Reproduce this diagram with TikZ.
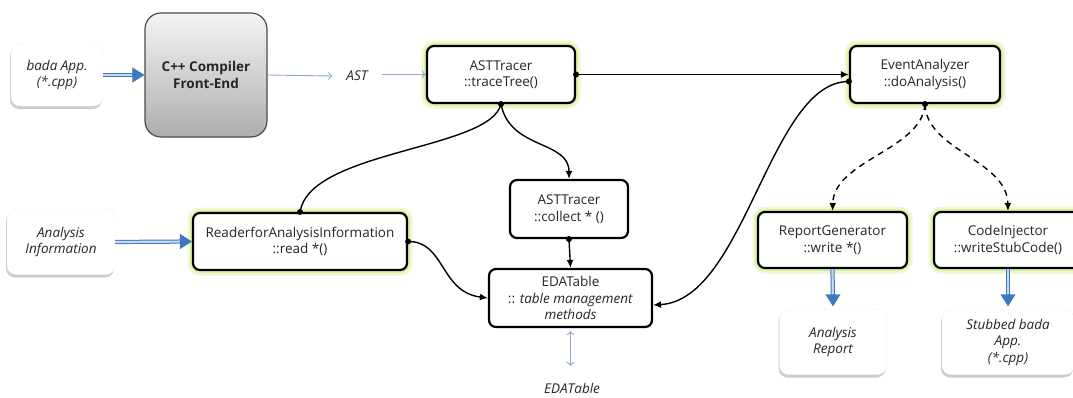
\documentclass[tikz,border=0pt]{standalone}
\usepackage{fontspec}
\setmainfont{Open Sans}
\usetikzlibrary{arrows.meta,shadows,calc}
\definecolor{glowA}{HTML}{EEF8D2}
\definecolor{glowB}{HTML}{DDF2A8}
\definecolor{dblue}{HTML}{3F78C2}
\definecolor{lblue}{HTML}{C4D8F0}
\definecolor{ablue}{HTML}{8EA9CF}
\begin{document}
\begin{tikzpicture}[x=1pt,y=-1pt,
  font=\fontsize{13.5}{16.5}\selectfont,
  meth/.style={draw=black, line width=2.2pt, rounded corners=7pt, fill=white, align=center, inner sep=0pt, text=black!85},
  glowbox/.style={meth, preaction={draw=glowA, line width=11pt}, preaction={draw=glowB, line width=6pt}},
  io/.style={rounded corners=9pt, fill=white, draw=black!5, align=center, inner sep=0pt,
    font=\fontsize{13.5}{16.5}\selectfont\itshape, text=black!85,
    drop shadow={shadow xshift=-1pt, shadow yshift=-3pt, fill=black!40, opacity=.5}},
  conn/.style={line width=1.4pt, -{Latex[length=8pt,width=7pt]}},
  plain/.style={line width=1.4pt},
  dconn/.style={line width=1.4pt, dash pattern=on 6pt off 5pt, -{Latex[length=8pt,width=7pt]}},
  thinblue/.style={draw=ablue, line width=0.9pt},
  dblline/.style={draw=dblue, double=lblue, double distance=2.2pt, line width=1pt, shorten >=11pt},
  bluetip/.style={draw=dblue, fill=dblue, line width=0.4pt, -{Triangle[length=12pt,width=15pt]}},
]
\useasboundingbox (0,0) rectangle (1073,397);

% inputs / outputs
\node[io, minimum width=92pt, minimum height=62pt] (bada) at (57,75) {bada App.\\(*.cpp)};
\node[io, minimum width=108pt, minimum height=65pt] (ainfo) at (61,242) {Analysis\\Information};
\node[io, minimum width=107pt, minimum height=65pt] (arep) at (833,342) {Analysis\\Report};
\node[io, minimum width=132pt, minimum height=65pt] (stub) at (1008,342) {Stubbed bada\\App.\\(*.cpp)};

% compiler
\node[draw=black!70, line width=1.2pt, rounded corners=16pt, top color=black!4, bottom color=black!32,
      minimum width=122pt, minimum height=124pt, align=center, font=\fontsize{13.5}{16.5}\selectfont\bfseries, text=black!85]
  (comp) at (206,75) {C++ Compiler\\Front-End};

\node[font=\fontsize{13.5}{16.5}\selectfont\itshape, text=black!85, inner xsep=14pt, inner ysep=2pt] (ast) at (357,76) {AST};

% method boxes
\node[glowbox, minimum width=148pt, minimum height=57pt] (tt) at (501,74.5) {ASTTracer\\::traceTree()};
\node[glowbox, minimum width=150pt, minimum height=57pt] (ea) at (925,74.5) {EventAnalyzer\\::doAnalysis()};
\node[glowbox, minimum width=214pt, minimum height=57pt] (rd) at (300,241.5) {ReaderforAnalysisInformation\\::read *()};
\node[meth, minimum width=118pt, minimum height=58pt] (co) at (569,209) {ASTTracer\\::collect * ()};
\node[meth, minimum width=163pt, minimum height=58pt] (eda) at (570.5,298) {EDATable\\:: \textit{table management}\\\textit{methods}};
\node[glowbox, minimum width=149pt, minimum height=56pt] (rg) at (832.5,240) {ReportGenerator\\::write *()};
\node[glowbox, minimum width=148pt, minimum height=56pt] (ci) at (1008,240) {CodeInjector\\::writeStubCode()};

\node[font=\fontsize{13.5}{16.5}\selectfont\itshape, text=black!85] (edal) at (572,388) {EDATable};
\coordinate (edaend) at (570.5,366);

% thin blue arrows
\draw[thinblue, -{To[length=4pt,width=8pt]}] (comp.east) -- (ast.west);
\draw[thinblue, -{To[length=4pt,width=8pt]}] (ast.east|-tt.west) -- (tt.west);
\draw[thinblue, {To[length=4pt,width=8pt]}-{To[length=4pt,width=8pt]}, shorten <=3pt] (eda.south) -- (edaend);

% double blue arrows
\draw[dblline] (bada.east) -- (comp.west);
\draw[bluetip] ($(comp.west)+(-12,0)$) -- (comp.west);
\draw[dblline] (ainfo.east) -- (rd.west);
\draw[bluetip] ($(rd.west)+(-12,0)$) -- (rd.west);
\coordinate (argoal) at ($(arep.north)+(0,-3)$);
\coordinate (stgoal) at ($(stub.north)+(0,-3)$);
\draw[dblline] (rg.south) -- (argoal);
\draw[bluetip] ($(argoal)+(0,-12)$) -- (argoal);
\draw[dblline] (ci.south) -- (stgoal);
\draw[bluetip] ($(stgoal)+(0,-12)$) -- (stgoal);

% black connectors
\draw[conn] (tt.east) -- (ea.west);
\draw[plain] (tt.south) .. controls (490,150) and (310,150) .. (rd.north);
\draw[conn] (tt.south) .. controls (510,150) and (569,140) .. (co.north);
\draw[conn] (co.south) -- (eda.north);
\draw[conn] (rd.east) .. controls (445,241) and (440,292) .. (eda.west);
\draw[conn] ([yshift=-7pt]ea.west) .. controls (770,81) and (745,300) .. ([yshift=-7pt]eda.east);
\draw[dconn] (ea.south) .. controls (922,150) and (834,160) .. (rg.north);
\draw[dconn] (ea.south) .. controls (926,150) and (1007,160) .. (ci.north);

% dots
\foreach \p in {tt.east, tt.south, rd.north, rd.east, co.south, ea.south}
  \fill (\p) circle (3pt);
\fill ([yshift=-7pt]ea.west) circle (3pt);
\end{tikzpicture}
\end{document}
